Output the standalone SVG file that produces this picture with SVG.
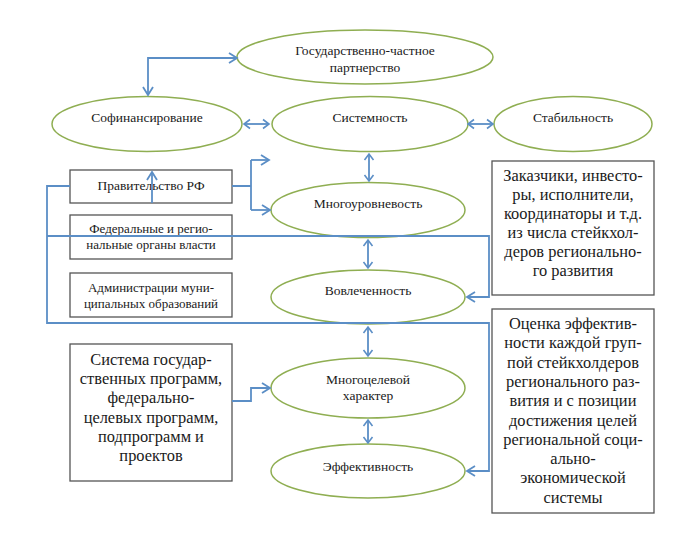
<svg xmlns="http://www.w3.org/2000/svg" width="680" height="534" viewBox="0 0 680 534">
<style>
.bg{fill:#ffffff}
.el{fill:#ffffff;stroke:#8fae52;stroke-width:1.5}
.bx{fill:#ffffff;stroke:#555555;stroke-width:1.3}
.ln{fill:none;stroke:#5b8ec6;stroke-width:1.8}
text{font-family:'Liberation Serif','DejaVu Serif',serif;fill:#1a1a1a;text-anchor:middle}
.s{font-size:13.5px}
.m{font-size:13px}
.b{font-size:16.4px}
</style>
<defs>
<marker id="ah" markerUnits="userSpaceOnUse" markerWidth="12" markerHeight="14" refX="9" refY="6" orient="auto-start-reverse" viewBox="0 0 12 12">
<path d="M1,1 L9,6 L1,11" fill="none" stroke="#5b8ec6" stroke-width="1.8"/>
</marker>
<marker id="as" markerUnits="userSpaceOnUse" markerWidth="10" markerHeight="12" refX="7" refY="5" orient="auto-start-reverse" viewBox="0 0 10 10">
<path d="M1,0.5 L7,5 L1,9.5" fill="none" stroke="#5b8ec6" stroke-width="1.6"/>
</marker>
</defs>
<rect class="bg" x="0" y="0" width="680" height="534"/>

<g id="n-gchp"><ellipse class="el" cx="365" cy="57" rx="128" ry="27"/><text class="s" x="365" y="55">Государственно-частное</text><text class="s" x="365" y="72">партнерство</text></g>
<g id="n-sofin"><ellipse class="el" cx="147" cy="124" rx="95" ry="27.5"/><text class="s" x="147" y="122">Софинансирование</text></g>
<g id="n-sist"><ellipse class="el" cx="370" cy="124" rx="98" ry="27.5"/><text class="s" x="370" y="122">Системность</text></g>
<g id="n-stab"><ellipse class="el" cx="573" cy="124" rx="79" ry="27.5"/><text class="s" x="573" y="122">Стабильность</text></g>
<g id="n-mnogour"><ellipse class="el" cx="368" cy="210" rx="97" ry="27.5"/><text class="s" x="368" y="208">Многоуровневость</text></g>
<g id="n-vovl"><ellipse class="el" cx="368" cy="297" rx="97" ry="27"/><text class="s" x="368" y="295">Вовлеченность</text></g>
<g id="n-mnogotsel"><ellipse class="el" cx="368" cy="388" rx="97" ry="30"/><text class="s" x="368" y="384">Многоцелевой</text><text class="s" x="368" y="400">характер</text></g>
<g id="n-eff"><ellipse class="el" cx="368" cy="471" rx="97" ry="27"/><text class="s" x="368" y="471">Эффективность</text></g>

<g id="n-prav"><rect class="bx" x="70" y="170" width="162" height="33"/><text class="s" x="151" y="190">Правительство РФ</text></g>
<g id="n-fed"><rect class="bx" x="70" y="215" width="162" height="44"/><text class="m" x="151" y="233">Федеральные и регио-</text><text class="m" x="151" y="249">нальные органы власти</text></g>
<g id="n-adm"><rect class="bx" x="70" y="273" width="162" height="44"/><text class="m" x="151" y="292">Администрации муни-</text><text class="m" x="151" y="308">ципальных образований</text></g>
<g id="n-sistprog"><rect class="bx" x="70" y="344" width="162" height="137"/>
<text class="b"><tspan x="151" y="365">Система государ-</tspan><tspan x="151" y="384.2">ственных программ,</tspan><tspan x="151" y="403.4">федерально-</tspan><tspan x="151" y="422.6">целевых программ,</tspan><tspan x="151" y="441.8">подпрограмм и</tspan><tspan x="151" y="461">проектов</tspan></text></g>
<g id="n-zak"><rect class="bx" x="492" y="161" width="162" height="134"/>
<text class="b"><tspan x="573" y="181">Заказчики, инвесто-</tspan><tspan x="573" y="200">ры, исполнители,</tspan><tspan x="573" y="219">координаторы и т.д.</tspan><tspan x="573" y="238">из числа стейкхол-</tspan><tspan x="573" y="257">деров регионально-</tspan><tspan x="573" y="276">го развития</tspan></text></g>
<g id="n-ocenka"><rect class="bx" x="492" y="309" width="162" height="204"/>
<text class="b"><tspan x="573" y="329">Оценка эффектив-</tspan><tspan x="573" y="348.3">ности каждой груп-</tspan><tspan x="573" y="367.6">пой стейкхолдеров</tspan><tspan x="573" y="386.9">регионального раз-</tspan><tspan x="573" y="406.2">вития и с позиции</tspan><tspan x="573" y="425.5">достижения целей</tspan><tspan x="573" y="444.8">региональной соци-</tspan><tspan x="573" y="464.1">ально-</tspan><tspan x="573" y="483.4">экономической</tspan><tspan x="573" y="502.7">системы</tspan></text></g>

<g id="connectors">
<path class="ln" d="M237,58 H148 V95" marker-start="url(#ah)" marker-end="url(#ah)"/>
<path class="ln" d="M244,124 H269" marker-start="url(#as)" marker-end="url(#as)"/>
<path class="ln" d="M468,124 H493" marker-start="url(#as)" marker-end="url(#as)"/>
<path class="ln" d="M369,154 V181" marker-start="url(#as)" marker-end="url(#as)"/>
<path class="ln" d="M232,186 H251 M251,160 V210"/>
<path class="ln" d="M251,160 H269" marker-end="url(#ah)"/>
<path class="ln" d="M251,210 H270" marker-end="url(#ah)"/>
<path class="ln" d="M152,203 V172" marker-end="url(#ah)"/>
<path class="ln" d="M70,186 H47 V323 H489 V471 H467" marker-end="url(#ah)"/>
<path class="ln" d="M47,236 H489 V297 H467" marker-end="url(#ah)"/>
<path class="ln" d="M368,240 V268" marker-start="url(#as)" marker-end="url(#as)"/>
<path class="ln" d="M368,327 V356" marker-start="url(#as)" marker-end="url(#as)"/>
<path class="ln" d="M368,420 V443" marker-start="url(#as)" marker-end="url(#as)"/>
<path class="ln" d="M232,401 H251 V388 H270" marker-end="url(#ah)"/>
</g>
</svg>
